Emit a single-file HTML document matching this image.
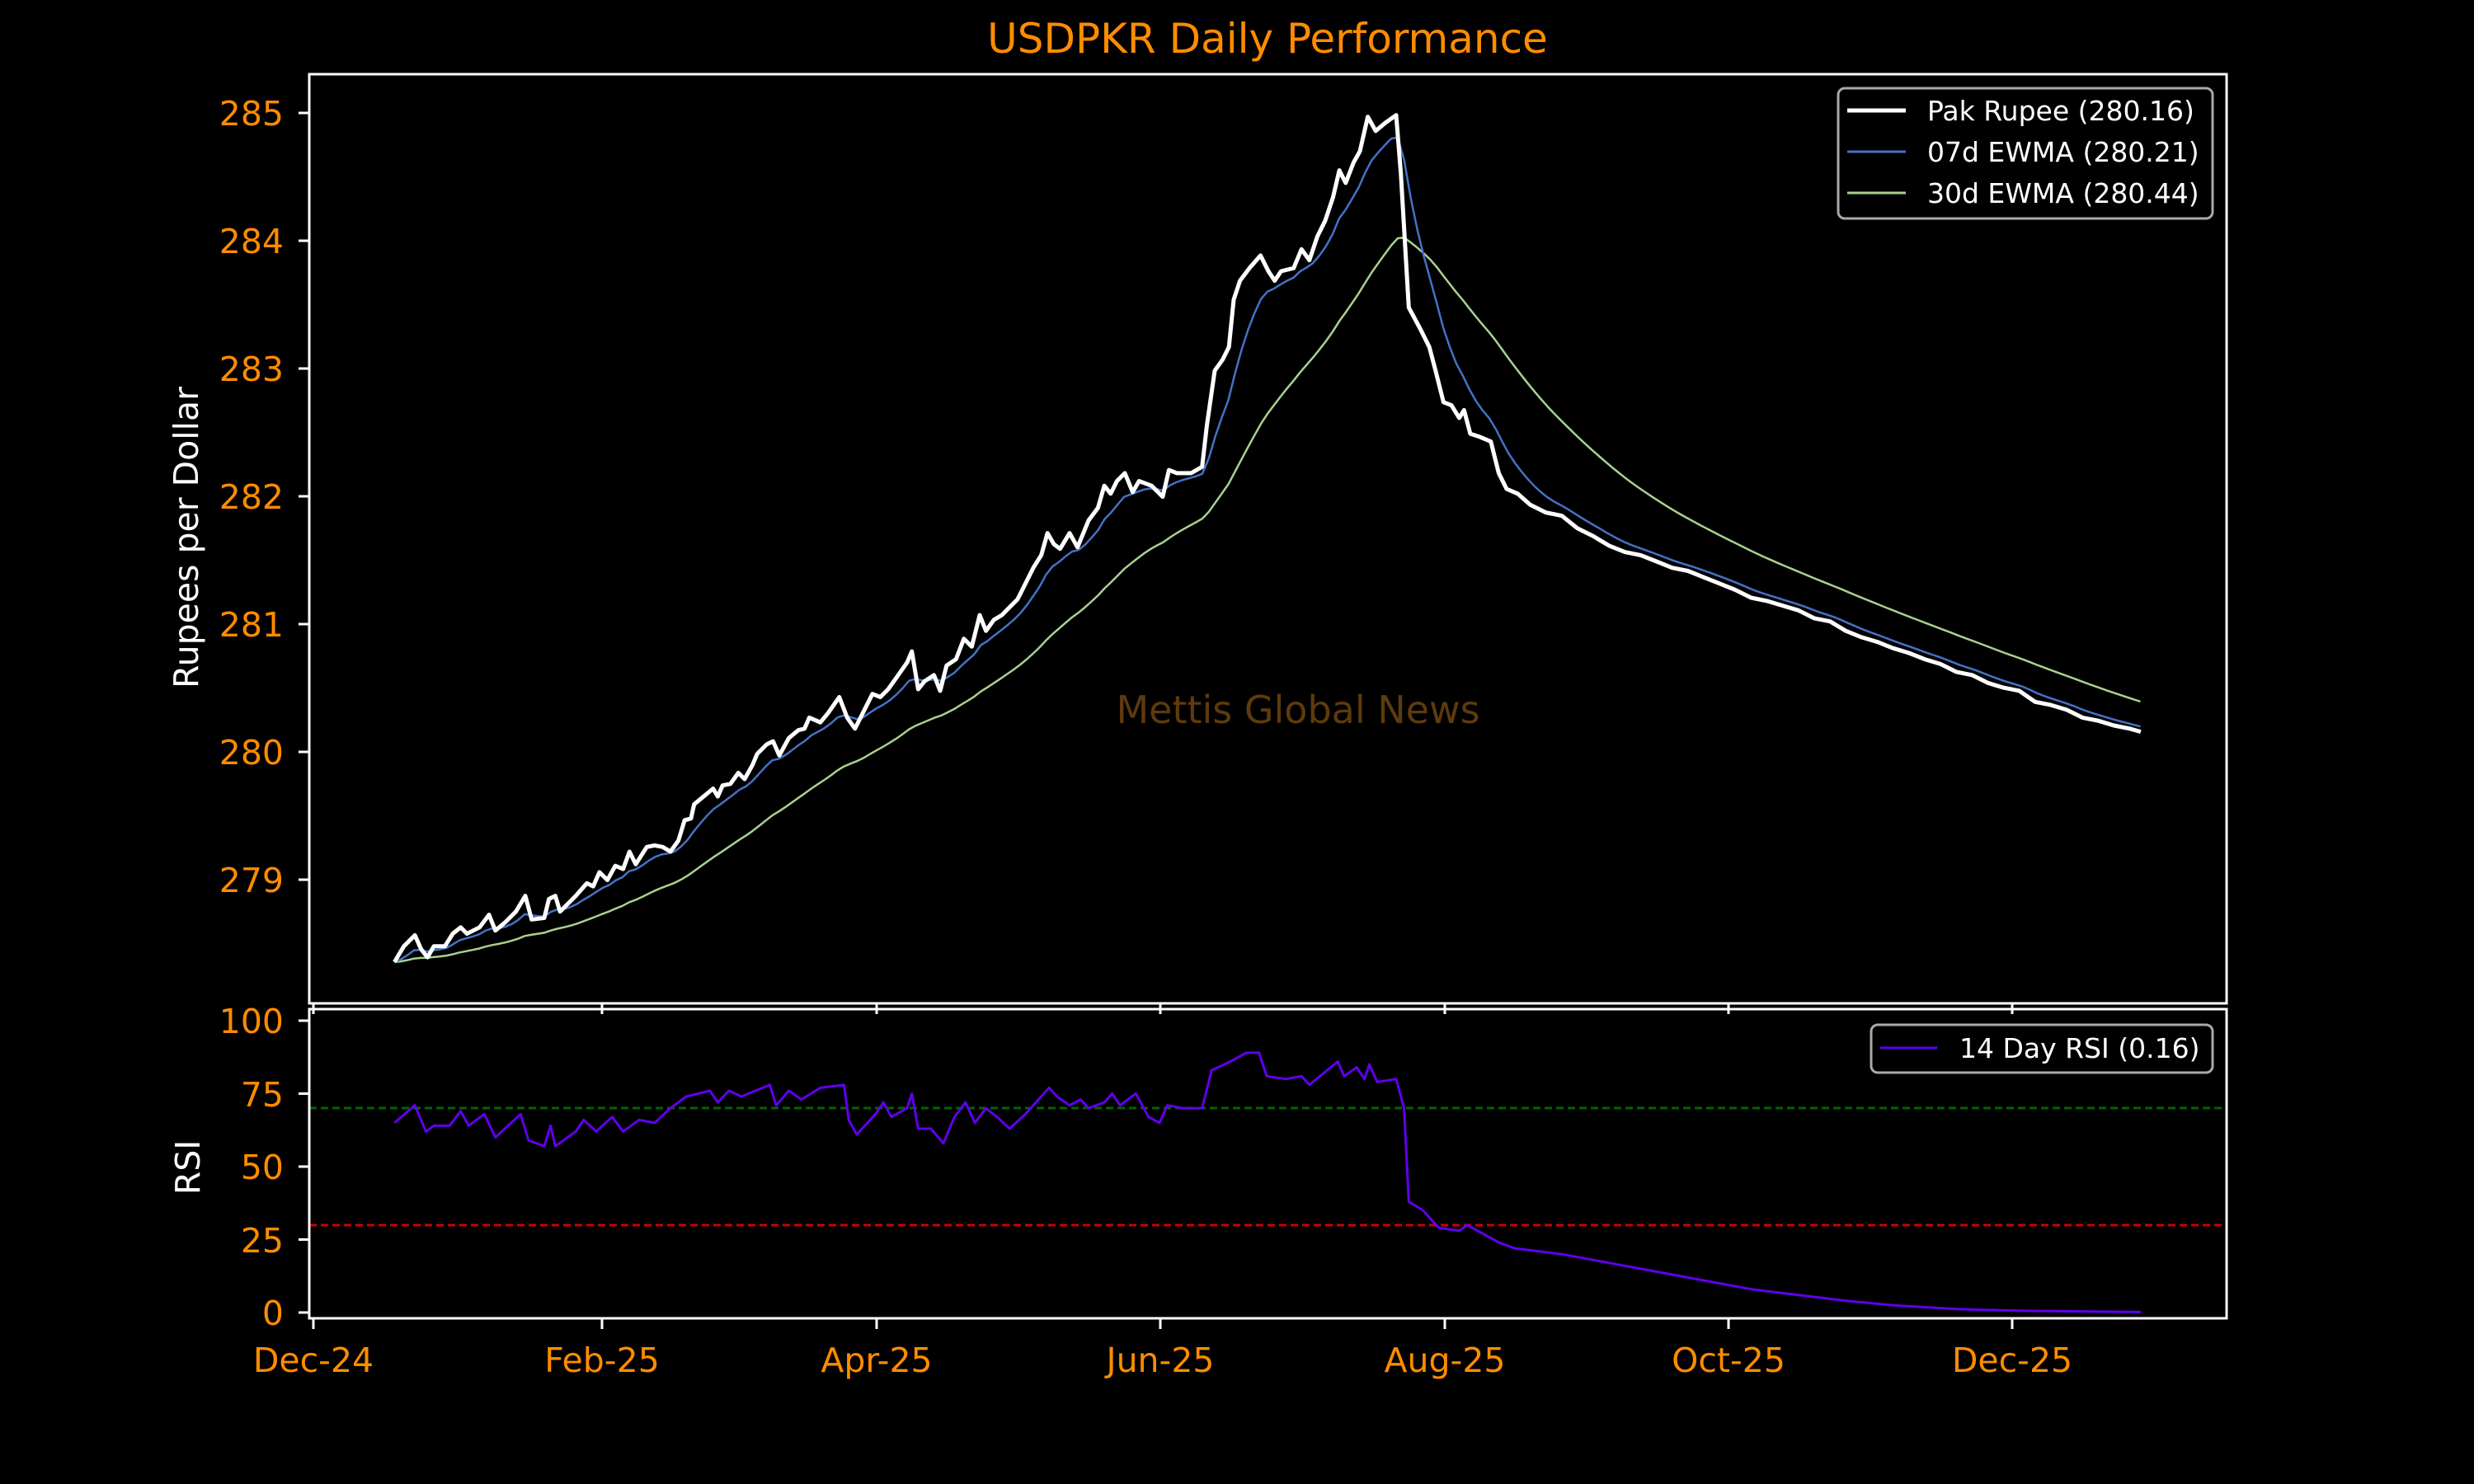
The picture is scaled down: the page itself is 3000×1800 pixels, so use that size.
<!DOCTYPE html>
<html><head><meta charset="utf-8"><style>
html,body{margin:0;padding:0;background:#000;}
svg{display:block;}
text{font-family:"DejaVu Sans","Liberation Sans",sans-serif;}
</style></head><body>
<svg id="s" width="3000" height="1800" viewBox="0 0 3000 1800" xmlns="http://www.w3.org/2000/svg">
<rect width="3000" height="1800" fill="#000"/>
<text x="1537" y="64" font-size="50" fill="#ff8c00" text-anchor="middle">USDPKR Daily Performance</text>
<text x="1574" y="877" font-size="46" fill="#5e3b0c" text-anchor="middle">Mettis Global News</text>
<line x1="375" y1="1344" x2="2700" y2="1344" stroke="#006400" stroke-width="3" stroke-dasharray="9,5"/>
<line x1="375" y1="1486" x2="2700" y2="1486" stroke="#d00000" stroke-width="3" stroke-dasharray="9,5"/>
<g id="series"></g>
<rect x="375" y="90" width="2325" height="1127" fill="none" stroke="#fff" stroke-width="3"/>
<rect x="375" y="1224" width="2325" height="375" fill="none" stroke="#fff" stroke-width="3"/>
<g stroke="#fff" stroke-width="3" id="ticks"></g>
<g font-size="41" fill="#ff8c00" text-anchor="end">
<text x="344" y="152">285</text>
<text x="344" y="307">284</text>
<text x="344" y="462">283</text>
<text x="344" y="617">282</text>
<text x="344" y="772">281</text>
<text x="344" y="927">280</text>
<text x="344" y="1082">279</text>
<text x="344" y="1253">100</text>
<text x="344" y="1342">75</text>
<text x="344" y="1430">50</text>
<text x="344" y="1519">25</text>
<text x="344" y="1607">0</text>
</g>
<g font-size="41" fill="#ff8c00" text-anchor="middle">
<text x="380" y="1664">Dec-24</text>
<text x="730" y="1664">Feb-25</text>
<text x="1063" y="1664">Apr-25</text>
<text x="1407" y="1664">Jun-25</text>
<text x="1752" y="1664">Aug-25</text>
<text x="2096" y="1664">Oct-25</text>
<text x="2440" y="1664">Dec-25</text>
</g>
<text transform="translate(240,652) rotate(-90)" font-size="41" fill="#fff" text-anchor="middle">Rupees per Dollar</text>
<text transform="translate(242,1416) rotate(-90)" font-size="41" fill="#fff" text-anchor="middle">RSI</text>
<rect x="2229" y="107" width="454" height="158" rx="8" fill="#000" stroke="#aaa" stroke-width="3"/>
<line x1="2240" y1="134" x2="2311" y2="134" stroke="#fff" stroke-width="5"/>
<line x1="2240" y1="184" x2="2311" y2="184" stroke="#4472c4" stroke-width="3"/>
<line x1="2240" y1="234" x2="2311" y2="234" stroke="#a9d18e" stroke-width="3"/>
<g font-size="33" fill="#fff">
<text x="2337" y="146">Pak Rupee (280.16)</text>
<text x="2337" y="196">07d EWMA (280.21)</text>
<text x="2337" y="246">30d EWMA (280.44)</text>
</g>
<rect x="2269" y="1243" width="414" height="58" rx="8" fill="#000" stroke="#aaa" stroke-width="3"/>
<line x1="2280" y1="1271" x2="2349" y2="1271" stroke="#6000ee" stroke-width="3"/>
<text x="2376" y="1283" font-size="33" fill="#fff">14 Day RSI (0.16)</text>
</svg>
<script>
(function(){
var NS="http://www.w3.org/2000/svg",S=1.913;
function el(n,a,p){var e=document.createElementNS(NS,n);for(var k in a)e.setAttribute(k,a[k]);(p||document.getElementById('series')).appendChild(e);return e;}
var tg=document.getElementById('ticks');
[137,292,447,602,757,912,1067].forEach(function(y){el('line',{x1:362,y1:y,x2:375,y2:y},tg);});
[1238,1326.5,1415,1503.5,1592].forEach(function(y){el('line',{x1:362,y1:y,x2:375,y2:y},tg);});
[380,730,1063,1407,1752,2096,2440].forEach(function(x){el('line',{x1:x,y1:1217,x2:x,y2:1230},tg);el('line',{x1:x,y1:1599,x2:x,y2:1612},tg);});
var P=[250,610,256,600,263,593,267,602,271,607,275,600,282,600,287,592,292,588,296,592,304,588,310,580,314,590,320,585,327,578,333,568,337,583,345,582,348,570,352,568,355,578,360,573,365,568,372,560,376,562,380,553,385,558,390,549,395,551,399,540,403,548,410,537,415,536,420,537,425,540,430,533,434,520,438,519,440,510,446,505,452,500,455,505,458,498,463,497,468,490,472,494,477,485,480,478,486,472,490,470,494,479,500,468,506,463,510,462,513,455,520,458,525,452,532,442,537,455,542,462,548,450,553,440,558,442,563,437,568,430,575,420,578,413,582,437,586,432,592,428,596,438,600,422,606,418,611,405,616,410,621,390,625,400,630,393,635,390,640,385,645,380,650,370,655,360,660,352,664,338,668,345,672,348,678,338,683,347,690,330,696,322,700,308,704,313,708,305,713,300,718,312,722,305,730,308,737,315,741,298,746,300,755,300,762,296,765,270,770,235,775,228,779,220,782,190,786,178,792,170,799,162,804,172,808,178,812,172,820,170,825,158,830,165,835,150,840,140,845,125,849,108,853,116,858,103,862,96,867,74,872,83,878,78,885,73,888,110,893,195,900,208,906,220,910,235,915,255,920,257,925,265,928,260,932,275,938,277,945,280,950,300,955,310,962,313,970,320,980,325,990,327,1000,335,1010,340,1015,343,1020,346,1030,350,1040,352,1050,356,1060,360,1070,362,1080,366,1090,370,1100,374,1110,379,1120,381,1130,384,1140,387,1150,392,1160,394,1170,400,1180,404,1190,407,1200,411,1210,414,1220,418,1230,421,1240,426,1250,428,1260,433,1270,436,1280,438,1290,445,1300,447,1310,450,1320,455,1330,457,1340,460,1350,462,1357,464];
var xs=[],ys=[];for(var i=0;i<P.length;i+=2){xs.push(P[i]*S);ys.push(P[i+1]*S);}
var samp=[],step=7.9;
for(var x=xs[0];x<=xs[xs.length-1]+0.01;x+=step){
 var j=0;while(j<xs.length-2&&xs[j+1]<x)j++;
 var t=(x-xs[j])/(xs[j+1]-xs[j]);t=Math.max(0,Math.min(1,t));
 samp.push([x,ys[j]+(ys[j+1]-ys[j])*t]);}
function ew(span){var a=2/(span+1),v=samp[0][1],o=[];samp.forEach(function(p){v=a*p[1]+(1-a)*v;o.push(p[0].toFixed(1)+','+v.toFixed(1));});return o.join(' ');}
el('polyline',{points:ew(30),fill:'none',stroke:'#a9d18e','stroke-width':2.5,'stroke-linejoin':'round'});
el('polyline',{points:ew(7),fill:'none',stroke:'#4472c4','stroke-width':2.5,'stroke-linejoin':'round'});
var pw=[];for(i=0;i<xs.length;i++)pw.push(xs[i].toFixed(1)+','+ys[i].toFixed(1));
el('polyline',{points:pw.join(' '),fill:'none',stroke:'#fff','stroke-width':5,'stroke-linejoin':'round'});
var R=[250,65,263,71,270,62,275,64,285,64,292,69,297,64,307,68,314,60,330,68,335,59,345,57,349,64,352,57,365,62,370,66,378,62,388,67,395,62,405,66,415,65,425,70,435,74,450,76,455,72,462,76,470,74,488,78,492,71,500,76,508,73,520,77,535,78,538,66,543,61,555,68,560,72,565,67,575,70,578,75,582,63,590,63,598,58,605,67,612,72,618,65,625,70,632,67,640,63,650,68,665,77,670,74,678,71,685,73,690,70,700,72,705,75,710,71,720,75,728,67,735,65,740,71,750,70,762,70,768,83,780,86,790,89,798,89,803,81,815,80,825,81,830,78,848,86,852,81,860,84,865,80,868,85,873,79,885,80,890,70,893,38,902,35,912,29,925,28,930,30,940,27,950,24,960,22,990,20,1020,17,1060,13,1080,11,1110,8,1140,6,1170,4,1200,2.5,1240,1.2,1280,0.6,1357,0.16];
var rp=[];for(i=0;i<R.length;i+=2)rp.push((R[i]*S).toFixed(1)+','+(1592-R[i+1]*3.54).toFixed(1));
el('polyline',{points:rp.join(' '),fill:'none',stroke:'#6000ee','stroke-width':3,'stroke-linejoin':'round'});
})();
</script>
</body></html>
